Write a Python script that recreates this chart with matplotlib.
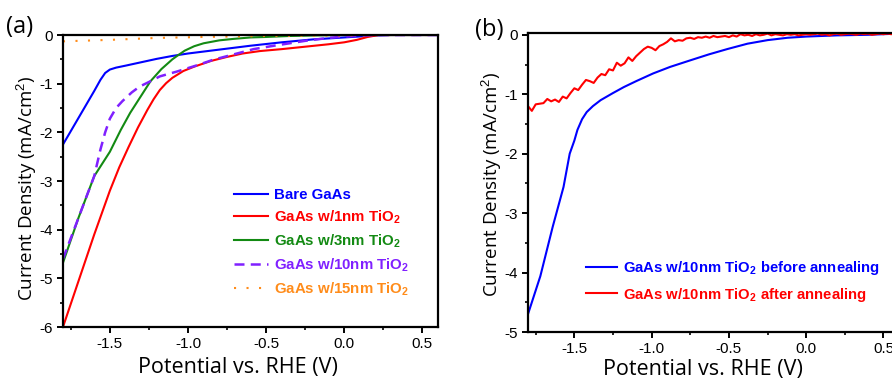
import numpy as np
import matplotlib
matplotlib.use('Agg')
import matplotlib.pyplot as plt
from matplotlib.ticker import MultipleLocator

plt.rcParams['font.family'] = ['Liberation Sans', 'DejaVu Sans']
plt.rcParams['axes.unicode_minus'] = False
plt.rcParams['mathtext.fontset'] = 'custom'
plt.rcParams['mathtext.rm'] = 'Liberation Sans'
plt.rcParams['mathtext.bf'] = 'Liberation Sans:bold'

# ---- panel (a) data: potential (V vs RHE) / current density (mA/cm2)
v_bare = [-1.8, -1.7, -1.6, -1.56, -1.53, -1.5, -1.46, -1.4, -1.3, -1.2, -1.1, -1.0,
          -0.8, -0.6, -0.4, -0.2, 0.0, 0.1, 0.2, 0.3, 0.6]
j_bare = [-2.25, -1.7, -1.15, -0.92, -0.78, -0.71, -0.67, -0.63, -0.56, -0.49, -0.43, -0.38,
          -0.3, -0.22, -0.15, -0.09, -0.05, -0.03, -0.01, 0.0, 0.0]

v_1nm = [-1.8, -1.7, -1.6, -1.5, -1.44, -1.38, -1.32, -1.26, -1.22, -1.18, -1.14, -1.1,
         -1.03, -0.96, -0.85, -0.75, -0.65, -0.54, -0.4, -0.25, -0.1, 0.0, 0.08, 0.15,
         0.22, 0.3, 0.6]
j_1nm = [-6.0, -5.05, -4.1, -3.2, -2.72, -2.3, -1.9, -1.54, -1.32, -1.13, -0.99, -0.88,
         -0.74, -0.65, -0.53, -0.45, -0.38, -0.33, -0.29, -0.24, -0.19, -0.15, -0.1, -0.04,
         0.0, 0.0, 0.0]

v_3nm = [-1.8, -1.7, -1.6, -1.5, -1.43, -1.37, -1.3, -1.24, -1.17, -1.1, -1.07, -1.02,
         -0.96, -0.9, -0.8, -0.71, -0.6, -0.5, -0.35, -0.2, 0.0, 0.6]
j_3nm = [-4.68, -3.75, -2.9, -2.4, -1.95, -1.6, -1.25, -0.95, -0.7, -0.5, -0.43, -0.32,
         -0.23, -0.17, -0.11, -0.08, -0.05, -0.04, -0.02, -0.01, 0.0, 0.0]

v_10nm = [-1.8, -1.7, -1.6, -1.56, -1.53, -1.5, -1.46, -1.42, -1.36, -1.31, -1.24, -1.18,
          -1.07, -0.94, -0.84, -0.71, -0.58, -0.45, -0.25, -0.1, 0.0, 0.2, 0.6]
j_10nm = [-4.6, -3.75, -2.9, -2.35, -2.0, -1.72, -1.5, -1.36, -1.18, -1.06, -0.95, -0.85,
          -0.75, -0.62, -0.51, -0.4, -0.29, -0.22, -0.12, -0.06, -0.03, 0.0, 0.0]

v_15nm = [-1.8, -1.5, -1.2, -0.9, -0.5, 0.0, 0.3, 0.6]
j_15nm = [-0.13, -0.1, -0.06, -0.04, -0.02, -0.01, 0.0, 0.0]

# ---- panel (b) data
v_before = [-1.8, -1.72, -1.64, -1.57, -1.53, -1.5, -1.48, -1.45, -1.42, -1.38, -1.33, -1.25,
            -1.18, -1.1, -0.99, -0.88, -0.75, -0.63, -0.51, -0.38, -0.25, -0.12, 0.0, 0.2, 0.4, 0.6]
j_before = [-4.7, -4.06, -3.23, -2.56, -2.0, -1.78, -1.6, -1.42, -1.3, -1.2, -1.1, -0.98,
            -0.88, -0.78, -0.65, -0.54, -0.43, -0.33, -0.24, -0.15, -0.09, -0.05, -0.03, -0.01, 0.0, 0.02]

v_after = np.round(np.arange(-1.8, 0.6001, 0.025), 3)
j_after = [-1.20, -1.28, -1.17, -1.16, -1.15, -1.08, -1.12, -1.09, -1.13, -1.04,
           -1.07, -0.98, -0.90, -0.93, -0.84, -0.76, -0.78, -0.81, -0.72, -0.66,
           -0.68, -0.58, -0.60, -0.47, -0.52, -0.48, -0.38, -0.44, -0.36, -0.30,
           -0.24, -0.20, -0.22, -0.26, -0.19, -0.16, -0.12, -0.06, -0.11, -0.09,
           -0.10, -0.06, -0.05, -0.07, -0.04, -0.05, -0.03, -0.05, -0.02, -0.04,
           -0.03, -0.02, -0.04, -0.01, -0.03, 0.01, -0.01, 0.00, -0.02, 0.01,
           -0.01, 0.00, 0.02, -0.01, 0.01, 0.00, -0.01, 0.01, 0.00, 0.01,
           -0.01, 0.00, 0.01, 0.00, 0.01, 0.02, 0.00, 0.01, -0.01, 0.01,
           0.02, 0.00, 0.01, 0.02, 0.01, 0.00, 0.02, 0.01, 0.02, 0.00,
           0.01, 0.02, 0.01, 0.02, 0.01, 0.02, 0.01]

blue = '#0000ff'
red = '#ff0000'
green = '#138a13'
purple = '#8020ff'
orange = '#ff8c1a'

fig = plt.figure(figsize=(8.92, 3.81), dpi=100)
axa = fig.add_axes([0.0706, 0.1417, 0.4204, 0.7664])
axb = fig.add_axes([0.5919, 0.1286, 0.4159, 0.7848])

xlab_font = dict(family=['Open Sans', 'DejaVu Sans'], size=15.5)
ylab_font = dict(family=['Open Sans', 'DejaVu Sans'], size=13.5)


def style(ax):
    for s in ax.spines.values():
        s.set_linewidth(1.6)
    ax.xaxis.set_major_locator(MultipleLocator(0.5))
    ax.xaxis.set_minor_locator(MultipleLocator(0.25))
    ax.yaxis.set_major_locator(MultipleLocator(1))
    ax.yaxis.set_minor_locator(MultipleLocator(0.5))
    ax.tick_params(which='major', direction='out', length=4, width=1.4, labelsize=11, pad=3)
    ax.tick_params(which='minor', direction='out', length=2.5, width=1.2)
    ax.xaxis.set_major_formatter(matplotlib.ticker.FormatStrFormatter('%.1f'))
    ax.yaxis.set_major_formatter(matplotlib.ticker.FormatStrFormatter('%d'))


# (a)
axa.plot(v_bare, j_bare, color=blue, lw=1.5, label='Bare GaAs')
axa.plot(v_1nm, j_1nm, color=red, lw=1.5, label=r'GaAs w/1nm TiO$_\mathbf{2}$')
axa.plot(v_3nm, j_3nm, color=green, lw=1.5, label=r'GaAs w/3nm TiO$_\mathbf{2}$')
axa.plot(v_10nm, j_10nm, color=purple, lw=1.8, ls=(0, (4, 2.5)), label=r'GaAs w/10nm TiO$_\mathbf{2}$')
axa.plot(v_15nm, j_15nm, color=orange, lw=1.5, ls=(0, (1, 5)), label=r'GaAs w/15nm TiO$_\mathbf{2}$')
axa.set_xlim(-1.8, 0.6)
axa.set_ylim(-6, 0)
style(axa)
axa.set_xlabel('Potential vs. RHE (V)', va='center', **xlab_font)
axa.set_ylabel('Current Density (mA/cm$^2$)', va='center', **ylab_font)
axa.xaxis.set_label_coords(0.467, -0.137)
axa.yaxis.set_label_coords(-0.096, 0.476)
lga = axa.legend(loc='upper left', bbox_to_anchor=(0.44, 0.497), frameon=False,
                 prop=dict(weight='bold', size=10.8), handlelength=2.3, handletextpad=0.4,
                 labelspacing=0.42, borderaxespad=0)
for t, l in zip(lga.get_texts(), lga.get_lines()):
    t.set_color(l.get_color())

# (b)
axb.plot(v_before, j_before, color=blue, lw=1.5, label=r'GaAs w/10nm TiO$_\mathbf{2}$ before annealing')
axb.plot(v_after, j_after, color=red, lw=1.5, label=r'GaAs w/10nm TiO$_\mathbf{2}$ after annealing')
axb.set_xlim(-1.8, 0.6)
axb.set_ylim(-5, 0.03)
style(axb)
axb.set_xlabel('Potential vs. RHE (V)', va='center', **xlab_font)
axb.set_ylabel('Current Density (mA/cm$^2$)', va='center', **ylab_font)
axb.xaxis.set_label_coords(0.472, -0.127)
axb.yaxis.set_label_coords(-0.097, 0.495)
lgb = axb.legend(loc='upper left', bbox_to_anchor=(0.14, 0.265), frameon=False,
                 prop=dict(weight='bold', size=10.7), handlelength=2.1, handletextpad=0.4,
                 labelspacing=0.6, borderaxespad=0)
for t, l in zip(lgb.get_texts(), lgb.get_lines()):
    t.set_color(l.get_color())

fig.text(0.022, 0.93, '(a)', ha='center', va='center', family=['Open Sans', 'DejaVu Sans'], size=17)
fig.text(0.549, 0.92, '(b)', ha='center', va='center', family=['Open Sans', 'DejaVu Sans'], size=17)

fig.savefig('out.png', dpi=100)
